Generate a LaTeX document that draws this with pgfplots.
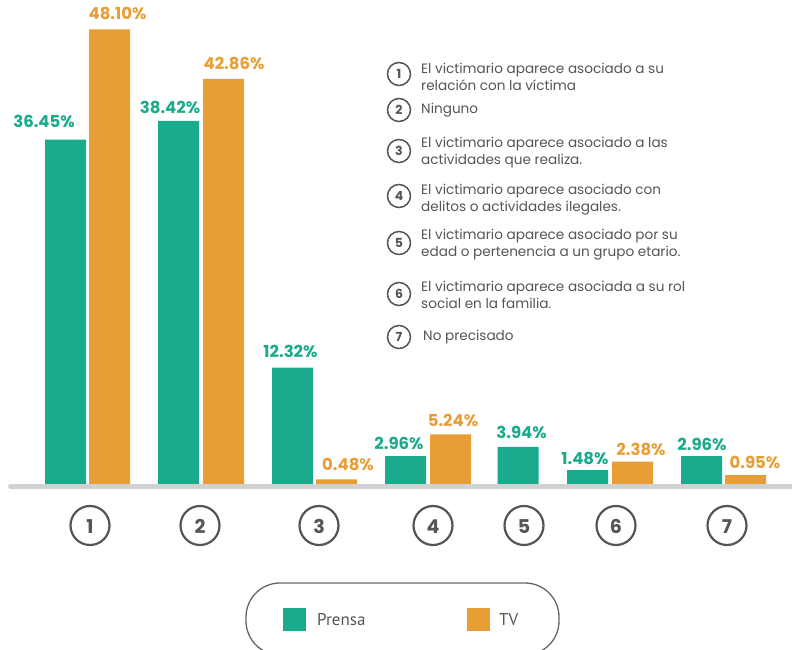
\documentclass[border=0pt]{standalone}
\usepackage{fontspec}
\setmainfont{Poppins}
\newfontfamily\legfont{PT Sans}
\usepackage{pgfplots}
\pgfplotsset{compat=1.18}
\definecolor{prensa}{HTML}{1AAB8C}
\definecolor{tv}{HTML}{E99D35}
\definecolor{txtgray}{HTML}{555555}
\definecolor{basegray}{HTML}{D0D2D1}

\begin{document}
\begin{tikzpicture}
\begin{axis}[at={(0,0)},anchor=south west,scale only axis,
  width=792pt,height=650pt,
  xmin=0,xmax=792,ymin=-17.566,ymax=51.217,
  hide axis,clip=false]
% Prensa
\addplot[ybar,bar width=41,bar shift=0pt,fill=prensa,draw=none] coordinates {
 (65.5,36.45)(178.5,38.42)(292.5,12.32)(405.5,2.96)(518,3.94)(587.5,1.48)(701.5,2.96)};
% TV
\addplot[ybar,bar width=41,bar shift=0pt,fill=tv,draw=none] coordinates {
 (109.5,48.10)(223.5,42.86)(336.5,0.48)(450.5,5.24)(632.5,2.38)(745.5,0.95)};
% value labels
\tikzset{lb/.style={anchor=base,font=\fontsize{16.5}{18}\selectfont\bfseries,inner sep=0pt}}
\node[lb,text=prensa,yshift=12pt] at (axis cs:44,36.45) {36.45\%};
\node[lb,text=prensa,yshift=7pt]  at (axis cs:170,38.42) {38.42\%};
\node[lb,text=prensa,yshift=10pt] at (axis cs:290.5,12.32) {12.32\%};
\node[lb,text=prensa,yshift=7pt]  at (axis cs:399,2.96) {2.96\%};
\node[lb,text=prensa,yshift=8pt]  at (axis cs:521.6,3.94) {3.94\%};
\node[lb,text=prensa,yshift=6pt]  at (axis cs:585,1.48) {1.48\%};
\node[lb,text=prensa,yshift=6pt]  at (axis cs:702,2.96) {2.96\%};
\node[lb,text=tv,yshift=10pt] at (axis cs:117.5,48.10) {48.10\%};
\node[lb,text=tv,yshift=9pt]  at (axis cs:234,42.86) {42.86\%};
\node[lb,text=tv,yshift=9pt]  at (axis cs:348,0.48) {0.48\%};
\node[lb,text=tv,yshift=8pt]  at (axis cs:453,5.24) {5.24\%};
\node[lb,text=tv,yshift=6pt]  at (axis cs:641,2.38) {2.38\%};
\node[lb,text=tv,yshift=7pt]  at (axis cs:755,0.95) {0.95\%};
\end{axis}

\begin{scope}[x=1pt,y=-1pt,yshift=650pt]
% baseline
\draw[basegray,line width=5pt,line cap=round] (10.5,486.5) -- (800,486.5);
% category circles
\foreach \cx/\n in {90/1,200/2,319/3,433/4,524/5,616/6,727/7}{
  \draw[txtgray,line width=2.2pt] (\cx,525.5) circle[radius=19.5];
  \node[text=txtgray,font=\bfseries\fontsize{19}{19}\selectfont] at (\cx,526.5) {\n};
}
% description list
\tikzset{dc/.style={draw=txtgray,line width=1.5pt,circle,minimum size=23pt,inner sep=0pt,
  text=txtgray,font=\bfseries\fontsize{12.5}{12.5}\selectfont},
  dt/.style={anchor=west,align=left,text=txtgray,inner sep=0pt,
  font=\fontsize{13.6}{17}\selectfont}}
\node[dc] at (399,74) {1};
\node[dt] at (421,77) {El victimario aparece asociado a su\\relación con la víctima};
\node[dc] at (399,110) {2};
\node[dt] at (421,110) {Ninguno};
\node[dc] at (399,151) {3};
\node[dt] at (421,153) {El victimario aparece asociado a las\\actividades que realiza.};
\node[dc] at (399,196) {4};
\node[dt] at (421,200) {El victimario aparece asociado con\\delitos o actividades ilegales.};
\node[dc] at (399,243) {5};
\node[dt] at (421,245) {El victimario aparece asociado por su\\edad o pertenencia a un grupo etario.};
\node[dc] at (399,294) {6};
\node[dt] at (421,295) {El victimario aparece asociada a su rol\\social en la familia.};
\node[dc] at (399,337) {7};
\node[dt] at (423,337) {No precisado};
% legend
\draw[txtgray!90,line width=1.3pt,rounded corners=34pt] (246,583) rectangle (559,655);
\fill[prensa] (283,608) rectangle (306,631);
\node[anchor=west,text=txtgray,font=\legfont\fontsize{17}{17}\selectfont,inner sep=0pt] at (317,620) {Prensa};
\fill[tv] (467,608) rectangle (490,631);
\node[anchor=west,text=txtgray,font=\legfont\fontsize{17}{17}\selectfont,inner sep=0pt] at (499,620) {TV};
\end{scope}
\pgfresetboundingbox
\path (0,0) rectangle (792pt,650pt);
\end{tikzpicture}
\end{document}
